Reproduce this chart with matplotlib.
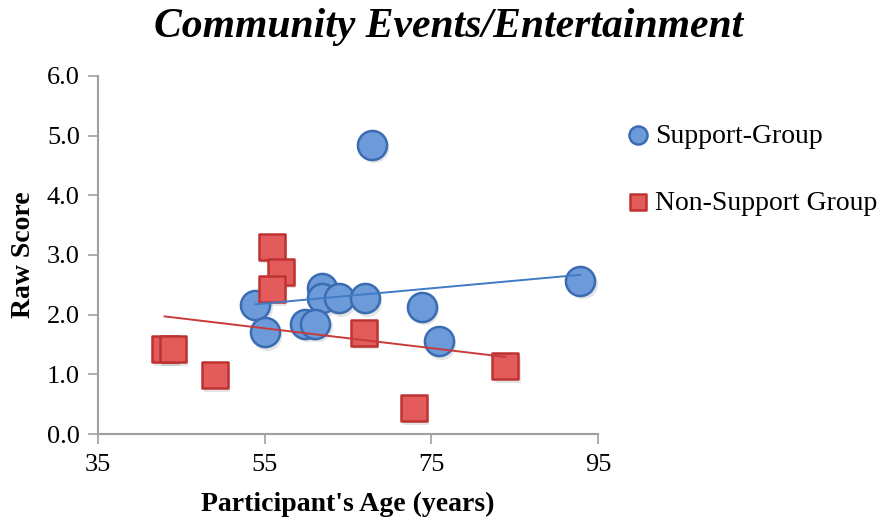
import numpy as np
import matplotlib
matplotlib.use("Agg")
import matplotlib.pyplot as plt

# Support group: age vs raw score
sup_age = [67.9, 53.9, 55.0, 61.9, 61.9, 63.9, 67.0, 59.9, 61.1, 73.9, 75.9, 92.9]
sup_score = [4.85, 2.17, 1.71, 2.44, 2.28, 2.28, 2.28, 1.85, 1.85, 2.13, 1.56, 2.57]

# Non-support group
non_age = [55.9, 57.0, 55.9, 43.0, 44.0, 49.0, 66.9, 72.9, 83.9]
non_score = [3.14, 2.72, 2.43, 1.42, 1.42, 0.99, 1.70, 0.43, 1.14]

x_ticks = [35, 55, 75, 95]
y_ticks = [0.0, 1.0, 2.0, 3.0, 4.0, 5.0, 6.0]

blue_fill, blue_edge = "#6d9bd9", "#3a6cb3"
red_fill, red_edge = "#e35b5b", "#be3232"

plt.rcParams["font.family"] = ["Liberation Serif", "DejaVu Serif"]

fig = plt.figure(figsize=(8.82, 5.23), dpi=100)
ax = fig.add_axes([0.111, 0.170, 0.567, 0.685])

# soft drop shadow under the markers
ax.scatter(np.array(sup_age) + 0.25, np.array(sup_score) - 0.06, s=440, marker="o",
           color="#000000", alpha=0.10, linewidths=0, zorder=2)
ax.scatter(np.array(non_age) + 0.25, np.array(non_score) - 0.06, s=370, marker="s",
           color="#000000", alpha=0.10, linewidths=0, zorder=2)

ax.scatter(sup_age, sup_score, s=440, marker="o", facecolor=blue_fill,
           edgecolor=blue_edge, linewidths=1.8, zorder=3, label="Support-Group")
ax.scatter(non_age, non_score, s=370, marker="s", facecolor=red_fill,
           edgecolor=red_edge, linewidths=1.8, zorder=3, label="Non-Support Group")

# linear trendlines over each group's age range
for ages, scores, col in [(sup_age, sup_score, "#3f7cc4"), (non_age, non_score, "#c93a3a")]:
    m, b = np.polyfit(ages, scores, 1)
    xs = np.array([min(ages), max(ages)])
    ax.plot(xs, m * xs + b, color=col, lw=1.4, zorder=4)

ax.set_xlim(35, 95)
ax.set_ylim(0, 6)
ax.set_xticks(x_ticks)
ax.set_yticks(y_ticks)
ax.set_yticklabels([f"{v:.1f}" for v in y_ticks])
ax.tick_params(axis="both", labelsize=19, color="#a0a0a0", length=7, width=1.2, direction="out")
ax.tick_params(axis="x", pad=7)
ax.tick_params(axis="y", pad=6)

for s in ["top", "right"]:
    ax.spines[s].set_visible(False)
for s in ["left", "bottom"]:
    ax.spines[s].set_color("#a0a0a0")
    ax.spines[s].set_linewidth(1.5)

ax.set_xlabel("Participant's Age (years)", fontsize=20, fontweight="bold", labelpad=12)
ax.set_ylabel("Raw Score", fontsize=20, fontweight="bold", labelpad=8)

fig.text(0.509, 0.948, "Community Events/Entertainment", fontsize=30, fontweight="bold",
         fontstyle="italic", ha="center", va="center")

leg = ax.legend(loc="upper left", bbox_to_anchor=(1.058, 0.868), frameon=False, fontsize=20,
                handlelength=0.8, handletextpad=0.2, labelspacing=1.5, markerscale=0.62,
                borderaxespad=0, borderpad=0)

fig.savefig("out.png", dpi=100)
